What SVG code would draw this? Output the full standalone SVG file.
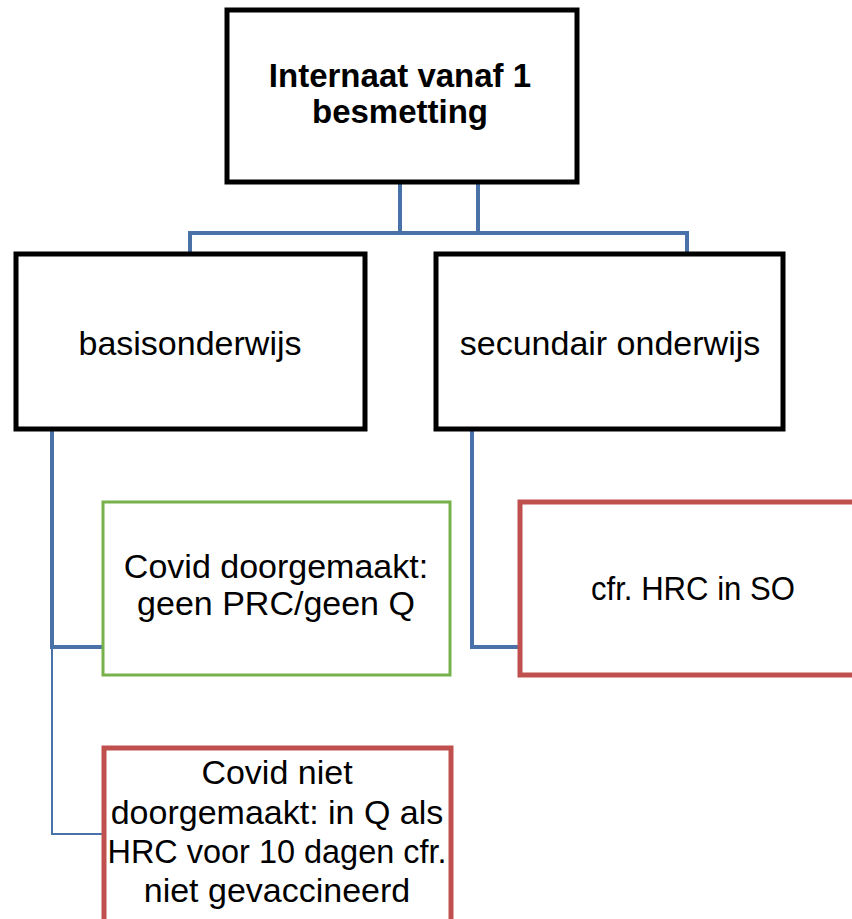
<svg xmlns="http://www.w3.org/2000/svg" width="852" height="919" viewBox="0 0 852 919">
<style>
.box{fill:#fff;stroke-width:5}
.blk{stroke:#000}
.grn{stroke:#77b14b;stroke-width:3}
.red{stroke:#c0504d}
.t{font-family:"Liberation Sans",Arial,sans-serif;font-size:34px;fill:#000;text-anchor:middle}
.b{font-weight:bold;font-size:33px}
.c{fill:none;stroke:#4872a8;stroke-width:4}
</style>
<rect width="852" height="919" fill="#fff"/>
<g id="connectors">
<path class="c" d="M400 182V233M478 182V233M190 233H687M190 231V254M687 231V254"/>
<path class="c" d="M52 428V647H104M472 428V647H521"/>
<path class="c" style="stroke-width:2" d="M52 647V834H104"/>
</g>
<g id="top">
<rect class="box blk" x="227" y="10" width="350" height="172"/>
<text class="t b" x="400" y="87">Internaat vanaf 1</text>
<text class="t b" x="400" y="123">besmetting</text>
</g>
<g id="basis">
<rect class="box blk" x="16" y="254" width="349" height="175"/>
<text class="t" x="190" y="355">basisonderwijs</text>
</g>
<g id="secundair">
<rect class="box blk" x="436" y="254" width="347" height="175"/>
<text class="t" x="610" y="355">secundair onderwijs</text>
</g>
<g id="doorgemaakt">
<rect class="box grn" x="103" y="502" width="347" height="173"/>
<text class="t" x="276" y="578">Covid doorgemaakt:</text>
<text class="t" x="276" y="615">geen PRC/geen Q</text>
</g>
<g id="so">
<rect class="box red" x="520" y="502" width="350" height="173"/>
<text class="t" x="693" y="600" textLength="204" lengthAdjust="spacingAndGlyphs">cfr. HRC in SO</text>
</g>
<g id="niet">
<rect class="box red" x="104" y="748" width="347" height="190"/>
<text class="t" x="277" y="784">Covid niet</text>
<text class="t" x="277" y="824">doorgemaakt: in Q als</text>
<text class="t" x="277" y="863" textLength="339" lengthAdjust="spacingAndGlyphs">HRC voor 10 dagen cfr.</text>
<text class="t" x="277" y="902">niet gevaccineerd</text>
</g>
</svg>
